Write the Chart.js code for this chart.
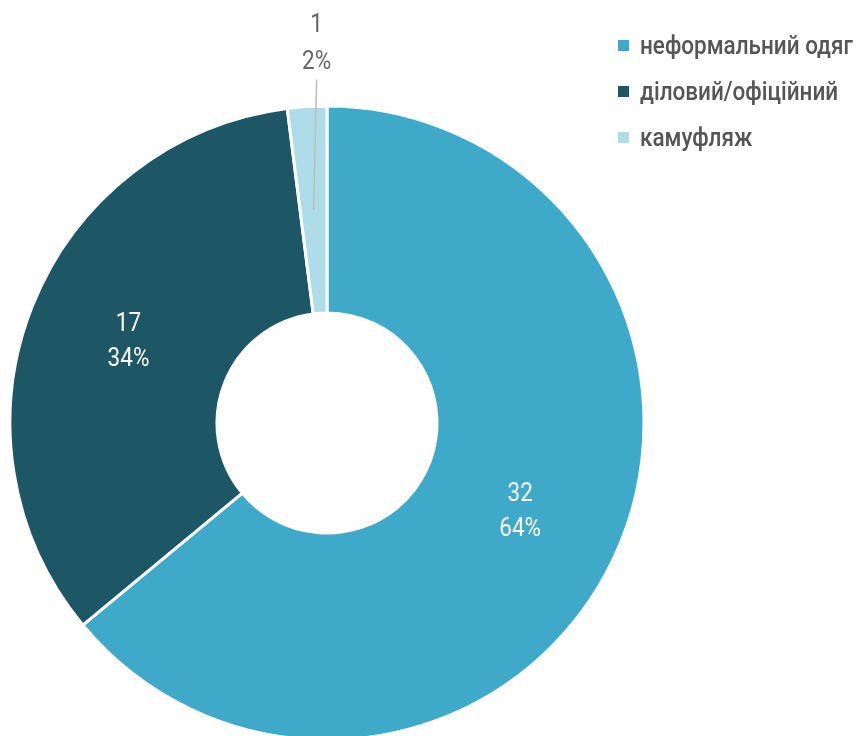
<!DOCTYPE html>
<html>
<head>
<meta charset="utf-8">
<script src="https://cdn.jsdelivr.net/npm/chart.js@4.4.1/dist/chart.umd.min.js"></script>
<style>
  html, body { margin: 0; padding: 0; background: #fff; overflow: hidden; }
  #wrap { position: absolute; left: 0; top: 0; width: 861px; height: 760px; }
  #legend { position: absolute; left: 618px; top: 22px; font-family: Roboto, "Noto Sans", sans-serif; font-size: 25px; font-weight: 500; color: #555555; }
  #legend .row { display: flex; align-items: center; height: 46px; white-space: nowrap; }
  #legend .sw { width: 11px; height: 11px; margin-right: 11px; flex: none; }
  #legend .tx { display: inline-block; transform: scaleX(0.9); transform-origin: left center; }
</style>
</head>
<body>
<div id="wrap">
  <canvas id="c" width="861" height="760"></canvas>
  <div id="legend"></div>
</div>
<script>
// Clothing categories and counts
const categories = ['неформальний одяг', 'діловий/офіційний', 'камуфляж'];
const counts = [32, 17, 1];
const percents = ['64%', '34%', '2%'];
const colors = ['#3FA9C9', '#1D5665', '#AEDCE8'];
// slices whose labels sit outside the ring
const outsideLabel = [false, false, true];

// narrow text, drawn at (x, y)
function narrowText(ctx, text, x, y) {
  ctx.save();
  ctx.translate(x, y);
  ctx.scale(0.9, 1);
  ctx.fillText(text, 0, 0);
  ctx.restore();
}

const labelPlugin = {
  id: 'sliceLabels',
  afterDatasetsDraw(chart) {
    const ctx = chart.ctx;
    const meta = chart.getDatasetMeta(0);
    ctx.save();
    ctx.font = '25px Roboto, "Noto Sans", sans-serif';
    ctx.textAlign = 'center';
    ctx.textBaseline = 'middle';
    meta.data.forEach((arc, i) => {
      const p = arc.tooltipPosition();
      if (outsideLabel[i]) {
        const topY = chart.chartArea.top - 25;
        ctx.strokeStyle = '#BDBDBD';
        ctx.lineWidth = 1.5;
        ctx.beginPath();
        ctx.moveTo(p.x, p.y);
        ctx.lineTo(p.x + 3, topY);
        ctx.stroke();
        ctx.fillStyle = '#666666';
        narrowText(ctx, String(counts[i]), p.x + 3, topY - 54);
        narrowText(ctx, percents[i], p.x + 3, topY - 17);
      } else {
        ctx.fillStyle = '#FFFFFF';
        narrowText(ctx, String(counts[i]), p.x, p.y - 19.5);
        narrowText(ctx, percents[i], p.x, p.y + 15.5);
      }
    });
    ctx.restore();
  }
};

const chart = new Chart(document.getElementById('c'), {
  type: 'doughnut',
  data: {
    labels: categories,
    datasets: [{
      data: counts,
      backgroundColor: colors,
      borderColor: '#FFFFFF',
      borderWidth: 3,
      hoverOffset: 0
    }]
  },
  options: {
    responsive: false,
    devicePixelRatio: 1,
    animation: false,
    cutout: '34.7%',
    rotation: 0,
    layout: { padding: { left: 8.5, top: 104.5, right: 215.5, bottom: 18.5 } },
    plugins: { legend: { display: false }, tooltip: { enabled: false } }
  },
  plugins: [labelPlugin]
});

// legend built from the same arrays
const legend = document.getElementById('legend');
categories.forEach((name, i) => {
  const row = document.createElement('div');
  row.className = 'row';
  const sw = document.createElement('span');
  sw.className = 'sw';
  sw.style.background = colors[i];
  const tx = document.createElement('span');
  tx.className = 'tx';
  tx.textContent = name;
  row.appendChild(sw);
  row.appendChild(tx);
  legend.appendChild(row);
});
</script>
</body>
</html>
